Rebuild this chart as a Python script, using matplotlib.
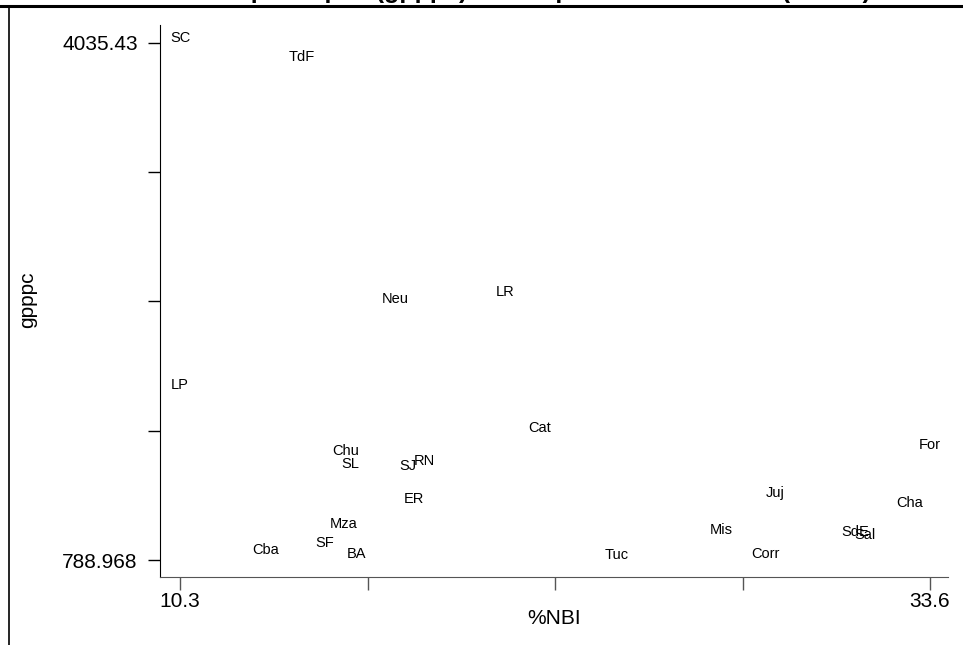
import matplotlib
matplotlib.use("Agg")
import matplotlib.pyplot as plt
from matplotlib.lines import Line2D
import numpy as np

plt.rcParams['font.family'] = ['Liberation Sans', 'DejaVu Sans']

# provincias: %NBI vs gasto per capita (gpppc)
provincias = ['SC', 'TdF', 'Neu', 'LR', 'LP', 'Cat', 'Chu', 'SL', 'SJ', 'RN',
              'ER', 'Mza', 'SF', 'Cba', 'BA', 'Tuc', 'Mis', 'Corr', 'Juj',
              'SdE', 'Sal', 'Cha', 'For']
nbi = [10.3, 14.09, 16.98, 20.40, 10.3, 21.48, 15.46, 15.58, 17.38, 17.88,
       17.57, 15.38, 14.79, 12.97, 15.78, 23.88, 27.11, 28.49, 28.78,
       31.27, 31.58, 32.98, 33.6]
gpppc = [4035.43, 3916, 2396, 2440, 1856, 1586, 1442, 1360, 1348, 1379,
         1141, 984, 864, 820, 795, 788.968, 946, 795, 1178,
         933, 915, 1115, 1480]

titulo = 'Gasto per cápita (gpppc) - % de población con NBI (censo)'
xlabel = '%NBI'
ylabel = 'gpppc'

fig = plt.figure(figsize=(9.63, 6.45), dpi=100)
W, H = 963, 645
ax = fig.add_axes([160 / W, 1 - 577 / H, (948 - 160) / W, (577 - 25) / H])

for lab, x, y in zip(provincias, nbi, gpppc):
    ax.annotate(lab, (x, y), xytext=(0, 5), textcoords='offset pixels',
                ha='center', va='center', fontsize=10.5)

xmin, xmax = min(nbi), max(nbi)
ymin, ymax = min(gpppc), max(gpppc)
xr, yr = xmax - xmin, ymax - ymin
ax.set_xlim(xmin - xr * 20 / 750, xmax + xr * 18 / 750)
ax.set_ylim(ymin - yr * 17 / 517, ymax + yr * 18 / 517)

ax.set_xticks(np.linspace(xmin, xmax, 5))
ax.set_xticklabels(['10.3', '', '', '', '33.6'])
ax.set_yticks(np.linspace(ymin, ymax, 5))
ax.set_yticklabels(['788.968', '', '', '', '4035.43'])
ax.tick_params(axis='both', direction='out', length=9, width=1, labelsize=15)
ax.tick_params(axis='y', pad=7, colors='black')
ax.tick_params(axis='x', pad=2, color='#555555')

for s in ['top', 'right']:
    ax.spines[s].set_visible(False)
ax.spines['left'].set_color('black')
ax.spines['bottom'].set_color('#555555')

ax.set_xlabel(xlabel, fontsize=15)
ax.xaxis.set_label_coords((554 - 160) / (948 - 160), -(609 - 577) / (577 - 25))
ax.set_ylabel(ylabel, fontsize=15)
ax.yaxis.set_label_coords(-(160 - 37) / (948 - 160), (577 - 300) / (577 - 25))

# marco y título recortado
fig.add_artist(Line2D([0, 1], [1 - 6 / H, 1 - 6 / H], transform=fig.transFigure,
                      color='black', lw=2.2))
fig.add_artist(Line2D([9 / W, 9 / W], [0, 1 - 6 / H], transform=fig.transFigure,
                      color='black', lw=1.2))
fig.text(522 / W, 1 + 2 / H, titulo, ha='center', va='baseline',
         fontsize=18, fontweight='bold')

fig.savefig('out.png', dpi=100)
